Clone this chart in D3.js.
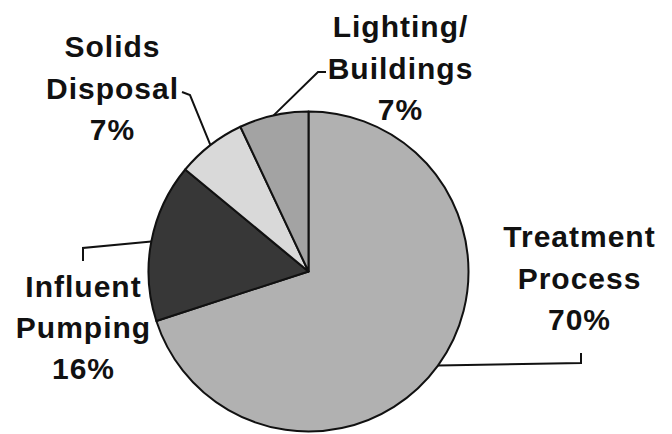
<!DOCTYPE html>
<html>
<head>
<meta charset="utf-8">
<script src="https://cdn.jsdelivr.net/npm/d3@7"></script>
<style>
  html, body { margin: 0; padding: 0; background: #fff; }
  svg { display: block; }
</style>
</head>
<body>
<svg id="chart" width="672" height="434"></svg>
<script>
// ---- data ----
const categories = ["Treatment Process", "Influent Pumping", "Solids Disposal", "Lighting/ Buildings"];
const values = [70, 16, 7, 7];
const labelLines = [["Treatment", "Process"], ["Influent", "Pumping"], ["Solids", "Disposal"], ["Lighting/", "Buildings"]];
const colors = ["#b1b1b1", "#373737", "#d9d9d9", "#a3a3a3"];

// ---- layout (positions only) ----
const W = 672, H = 434;
const cx = 308.5, cy = 271.5, R = 160;
const labelLayout = [
  { x: 579, y: 247, step: 41.5, leader: [[581, 363], [581, 353]] },
  { x: 83,  y: 297, step: 41,   leader: [[83, 248], [83, 261]] },
  { x: 112, y: 57,  step: 41.5, leader: [[190, 95], [182, 92]] },
  { x: 400, y: 37,  step: 41.5, leader: [[318, 72], [326, 72]] }
];

const svg = d3.select("#chart");
const g = svg.append("g").attr("transform", `translate(${cx},${cy})`);

const data = categories.map((c, i) => ({ name: c, value: values[i], i }));
const pie = d3.pie().value(d => d.value).sort(null).startAngle(0).endAngle(2 * Math.PI);
const arcs = pie(data);
const arc = d3.arc().innerRadius(0).outerRadius(R);

g.selectAll("path.slice")
  .data(arcs)
  .enter().append("path")
  .attr("class", "slice")
  .attr("d", arc)
  .attr("fill", d => colors[d.data.i])
  .attr("stroke", "#111")
  .attr("stroke-width", 2)
  .attr("stroke-linejoin", "round");

const line = d3.line();
arcs.forEach(a => {
  const mid = (a.startAngle + a.endAngle) / 2;
  const ex = cx + R * Math.sin(mid), ey = cy - R * Math.cos(mid);
  const L = labelLayout[a.data.i];
  const pts = [[ex, ey]].concat(L.leader);
  svg.append("path")
    .attr("d", line(pts))
    .attr("fill", "none")
    .attr("stroke", "#111")
    .attr("stroke-width", 2);
});

const fmt = d3.format(".0f");
arcs.forEach(a => {
  const L = labelLayout[a.data.i];
  const lines = labelLines[a.data.i].concat([fmt(a.data.value) + "%"]);
  const t = svg.append("text")
    .attr("text-anchor", "middle")
    .attr("font-family", "'Liberation Sans', Arial, sans-serif")
    .attr("font-weight", "bold")
    .attr("font-size", 30)
    .attr("letter-spacing", 1)
    .attr("fill", "#111");
  lines.forEach((s, k) => {
    t.append("tspan")
      .attr("x", L.x + 0.5)
      .attr("y", L.y + k * L.step)
      .text(s);
  });
});
</script>
</body>
</html>
